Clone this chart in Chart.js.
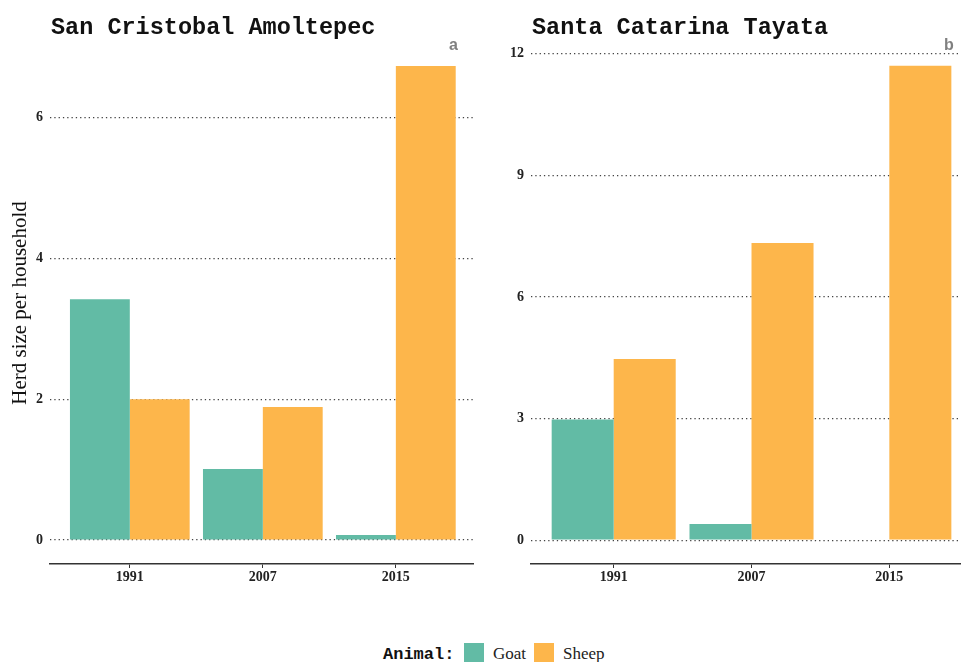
<!DOCTYPE html>
<html>
<head>
<meta charset="utf-8">
<script src="https://cdn.jsdelivr.net/npm/chart.js@4.4.1/dist/chart.umd.min.js"></script>
<style>
  body { margin: 0; background: #fff; }
  #wrap { position: relative; width: 961px; height: 662px; overflow: hidden; }
  canvas { position: absolute; top: 0; }
  .txt { position: absolute; line-height: 1; white-space: nowrap; }
  .title { font: bold 23.5px "Liberation Mono", monospace; color: #111; top: 14px; }
  .tag { font: bold 16px "Liberation Sans", sans-serif; color: #808080; top: 36px; }
  .sw { position: absolute; width: 20px; height: 20px; top: 643px; }
  .leg { font: 17px "Liberation Serif", serif; color: #222; top: 644px; }
</style>
</head>
<body>
<div id="wrap">
  <canvas id="chartA" width="480" height="600" style="left:0;width:480px;height:600px"></canvas>
  <canvas id="chartB" width="481" height="600" style="left:480px;width:481px;height:600px"></canvas>
  <div class="txt title" style="left:51px">San Cristobal Amoltepec</div>
  <div class="txt title" style="left:532px">Santa Catarina Tayata</div>
  <div class="txt tag" style="left:449px">a</div>
  <div class="txt tag" style="left:944px">b</div>
  <div class="txt" style="left:383px;top:645px;font:bold 17px 'Liberation Mono',monospace;color:#111">Animal:</div>
  <div class="sw" style="left:464px;background:#62bba5"></div>
  <div class="txt leg" style="left:493px">Goat</div>
  <div class="sw" style="left:534px;background:#fdb64b"></div>
  <div class="txt leg" style="left:563px">Sheep</div>
</div>
<script>
// valores
const years = ['1991', '2007', '2015'];
const goatA = [3.42, 1.01, 0.07];
const sheepA = [2.0, 1.89, 6.73];
const goatB = [2.98, 0.4, 0];
const sheepB = [4.47, 7.33, 11.7];
const ticksA = [0, 2, 4, 6];
const ticksB = [0, 3, 6, 9, 12];

const goatColor = '#62bba5';
const sheepColor = '#fdb64b';

function toPoints(values) {
    return values.map((v, i) => ({ x: i + 1, y: v }));
}

function makeChart(id, goat, sheep, yTicks, yMin, yMax, xMax, axisWidth, padRight, yTitle) {
    const ctx = document.getElementById(id).getContext('2d');
    return new Chart(ctx, {
        type: 'bar',
        data: {
            datasets: [
                { label: 'Goat', data: toPoints(goat), backgroundColor: goatColor },
                { label: 'Sheep', data: toPoints(sheep), backgroundColor: sheepColor }
            ]
        },
        options: {
            responsive: false,
            animation: false,
            layout: { padding: { top: 42, right: padRight, left: 0, bottom: 0 } },
            datasets: { bar: { barPercentage: 1, categoryPercentage: 0.9 } },
            plugins: { legend: { display: false }, tooltip: { enabled: false } },
            scales: {
                x: {
                    type: 'linear',
                    min: 0.4,
                    max: xMax,
                    offset: false,
                    afterFit: (s) => { s.height = 36; },
                    afterBuildTicks: (s) => { s.ticks = years.map((y, i) => ({ value: i + 1 })); },
                    grid: { offset: false, drawOnChartArea: false, drawTicks: true, tickLength: 4, color: '#333', lineWidth: 1 },
                    border: { display: true, color: '#333', width: 1.5 },
                    ticks: {
                        padding: 1,
                        color: '#222',
                        font: { family: 'Liberation Serif', size: 14, weight: 'bold' },
                        callback: (v) => years[v - 1] || ''
                    }
                },
                y: {
                    min: yMin,
                    max: yMax,
                    afterFit: (s) => { s.width = axisWidth; },
                    afterBuildTicks: (s) => { s.ticks = yTicks.map(v => ({ value: v })); },
                    grid: { drawTicks: false, color: '#444', lineWidth: 1.3 },
                    border: { display: false, dash: [1.3, 3] },
                    ticks: {
                        padding: 7,
                        color: '#222',
                        font: { family: 'Liberation Serif', size: 14, weight: 'bold' }
                    },
                    title: {
                        display: !!yTitle,
                        text: yTitle,
                        color: '#111',
                        padding: { top: 8, bottom: 0 },
                        font: { family: 'Liberation Serif', size: 21 }
                    }
                }
            }
        }
    });
}

makeChart('chartA', goatA, sheepA, ticksA, -0.34, 7.07, 3.58, 50, 7, 'Herd size per household');
makeChart('chartB', goatB, sheepB, ticksB, -0.585, 12.285, 3.52, 51, 0, '');
</script>
</body>
</html>
